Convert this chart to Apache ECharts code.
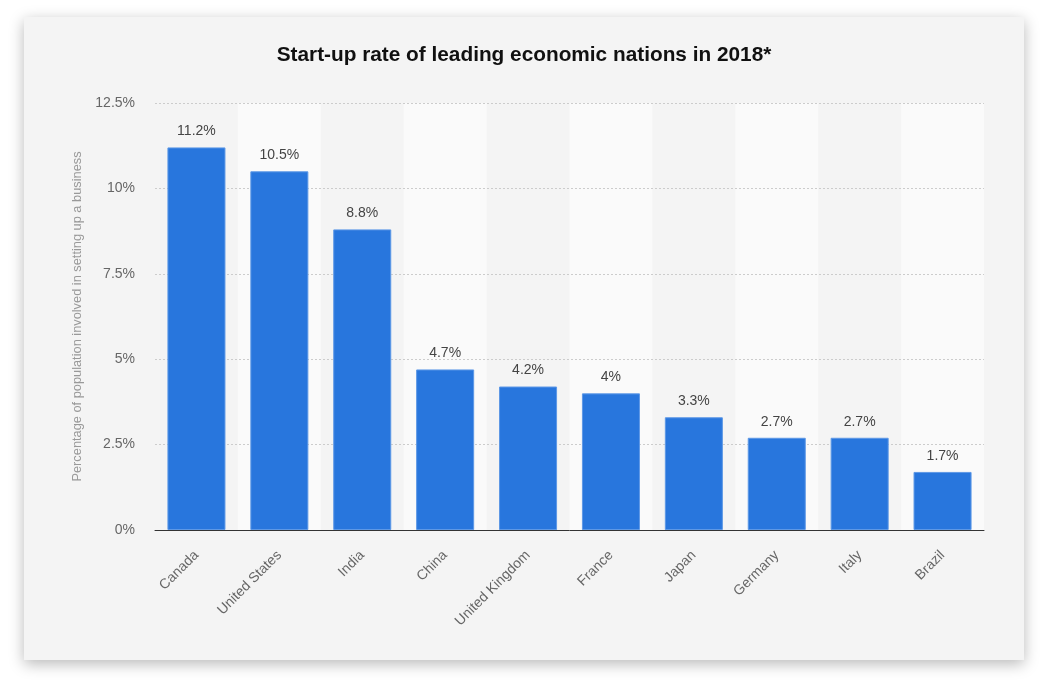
<!DOCTYPE html>
<html>
<head>
<meta charset="utf-8">
<script src="https://cdn.jsdelivr.net/npm/echarts@6/dist/echarts.min.js"></script>
<style>
html,body{margin:0;padding:0;background:#fff;width:1048px;height:692px;overflow:hidden;}
#card{position:absolute;left:24px;top:17px;width:1000px;height:643px;background:#f4f4f4;box-shadow:0 4px 14px rgba(0,0,0,0.28);}
#chart{width:1000px;height:643px;}
</style>
</head>
<body>
<div id="card"><div id="chart"></div></div>
<script>
const categories = ["Canada","United States","India","China","United Kingdom","France","Japan","Germany","Italy","Brazil"];
const values = [11.2,10.5,8.8,4.7,4.2,4,3.3,2.7,2.7,1.7];
const titleText = "Start-up rate of leading economic nations in 2018*";
const yAxisName = "Percentage of population involved in setting up a business";

const font = "'Liberation Sans', Arial, Helvetica, sans-serif";
const chart = echarts.init(document.getElementById('chart'));
chart.setOption({
  backgroundColor: 'transparent',
  animation: false,
  title: {
    text: titleText,
    left: 'center',
    top: 23,
    textStyle: {fontFamily: font, fontSize: 20.8, fontWeight: 'bold', color: '#111'}
  },
  grid: {left: 131, right: 40, top: 86, bottom: 130},
  xAxis: {
    type: 'category',
    z: 0,
    data: categories,
    axisLine: {lineStyle: {color: '#333', width: 1}},
    axisTick: {show: false},
    axisLabel: {rotate: 45, margin: 23, color: '#666', fontFamily: font, fontSize: 14},
    splitArea: {show: true, areaStyle: {color: ['rgba(0,0,0,0)', '#fafafa']}}
  },
  yAxis: {
    type: 'value',
    z: 1,
    min: 0, max: 12.5, interval: 2.5,
    name: yAxisName,
    nameLocation: 'middle',
    nameGap: 70,
    nameTextStyle: {color: '#999', fontFamily: font, fontSize: 12.8},
    axisLine: {show: false},
    axisTick: {show: false},
    axisLabel: {color: '#666', fontFamily: font, fontSize: 14, margin: 20,
      formatter: v => v + '%'},
    splitLine: {showMinLine: false, lineStyle: {color: '#cccccc', type: [2, 2], width: 1}}
  },
  series: [{
    type: 'bar',
    z: 3,
    data: values,
    barWidth: '70%',
    itemStyle: {color: '#2876dd', borderColor: '#5d98e6', borderWidth: 1},
    label: {show: true, position: 'top', distance: 9, color: '#444', fontFamily: font, fontSize: 14,
      formatter: p => p.value + '%'}
  }]
});
</script>
</body>
</html>
